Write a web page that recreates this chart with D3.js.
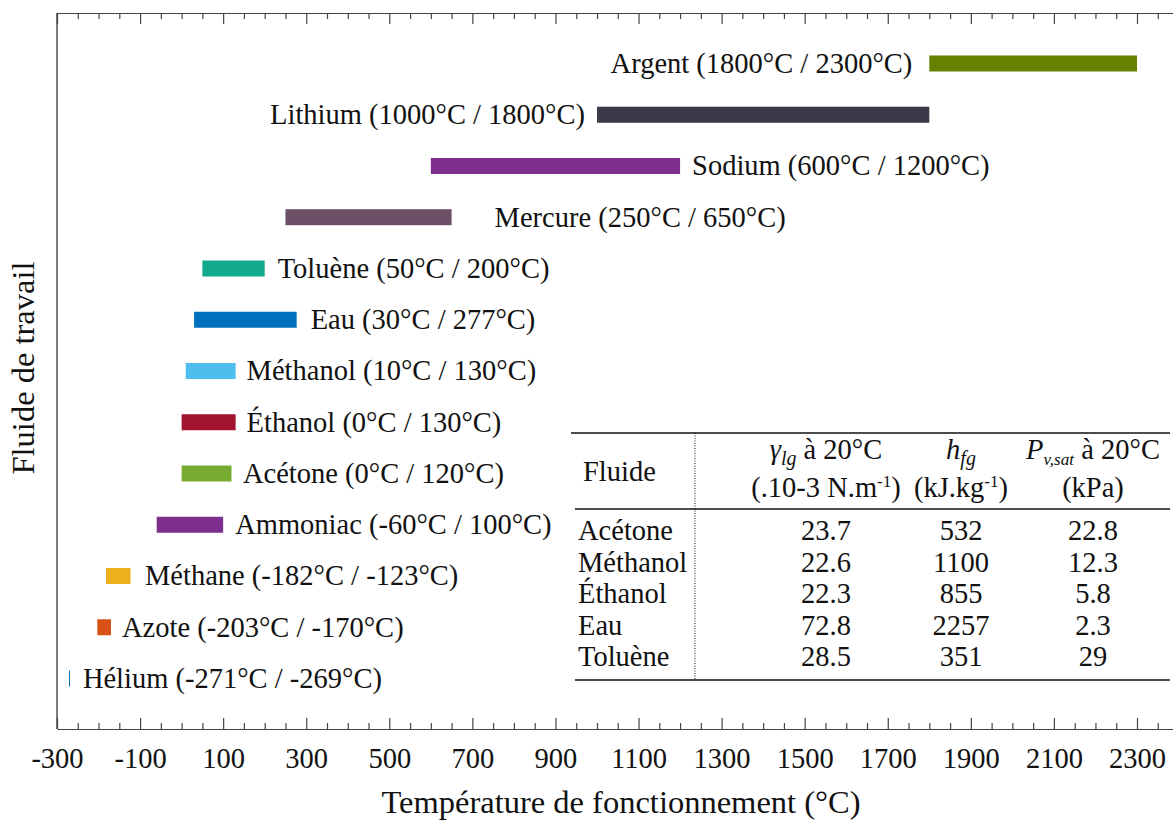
<!DOCTYPE html>
<html>
<head>
<meta charset="utf-8">
<script src="https://cdn.jsdelivr.net/npm/d3@7"></script>
<style>
  html, body { margin: 0; padding: 0; background: #fff; }
  svg { display: block; font-family: "Liberation Serif", "Times New Roman", serif; }
</style>
</head>
<body>
<svg id="chart" width="1173" height="821"></svg>
<script>
// ---------- data ----------
const fluids = ["Argent", "Lithium", "Sodium", "Mercure", "Toluène", "Eau", "Méthanol",
                "Éthanol", "Acétone", "Ammoniac", "Méthane", "Azote", "Hélium"];
const tMin = [1800, 1000, 600, 250, 50, 30, 10, 0, 0, -60, -182, -203, -271];
const tMax = [2300, 1800, 1200, 650, 200, 277, 130, 130, 120, 100, -123, -170, -269];
const barColors = ["#668000", "#3b3a4a", "#7e2f8e", "#6b5068", "#12a88a", "#0072bd", "#4dbeee",
                   "#a2142f", "#77ac30", "#7e2f8e", "#edb120", "#d95319", "#0072bd"];
const xTickValues = [-300, -100, 100, 300, 500, 700, 900, 1100, 1300, 1500, 1700, 1900, 2100, 2300];

const tableFluids = ["Acétone", "Méthanol", "Éthanol", "Eau", "Toluène"];
const gammaLg = ["23.7", "22.6", "22.3", "72.8", "28.5"];
const hFg = ["532", "1100", "855", "2257", "351"];
const pVsat = ["22.8", "12.3", "5.8", "2.3", "29"];

// ---------- layout ----------
const FS = 28.5;
const TFS = 32.5;
const plotLeft = 57, plotTop = 13, plotBottom = 729;
const pxPerDeg = 1080 / 2600;
const labelSide = ["left", "left", "right", "right", "right", "right", "right",
                   "right", "right", "right", "right", "right", "right"];
const labelGap = [17, 12, 12, 43, 13, 14, 11, 11, 11.5, 12, 14.5, 11, 13];

const svg = d3.select("#chart");
const x = d3.scaleLinear().domain([-300, 2400]).range([plotLeft, plotLeft + 2700 * pxPerDeg]);
const y = d3.scaleBand().domain(fluids).range([plotTop, plotBottom]).paddingOuter(0.485).paddingInner(0);

const axisColor = "#444";
const minorTicks = d3.range(-300, 2401, 50).filter(v => (v + 300) % 200 !== 0);

// top axis
const gTop = svg.append("g").attr("transform", `translate(0,${plotTop})`);
gTop.call(d3.axisBottom(x).tickValues(xTickValues).tickSizeInner(11).tickSizeOuter(0).tickFormat(""));
gTop.append("g").call(d3.axisBottom(x).tickValues(minorTicks).tickSizeInner(6).tickSizeOuter(0).tickFormat(""))
    .select(".domain").remove();

// bottom axis
const gBot = svg.append("g").attr("transform", `translate(0,${plotBottom})`);
gBot.call(d3.axisBottom(x).tickValues(xTickValues).tickSizeInner(-11).tickSizeOuter(0)
    .tickPadding(19).tickFormat(d => String(d)));
gBot.append("g").call(d3.axisBottom(x).tickValues(minorTicks).tickSizeInner(-6).tickSizeOuter(0).tickFormat(""))
    .select(".domain").remove();
gBot.selectAll("text").attr("font-size", FS).attr("font-family", "Liberation Serif").attr("fill", "#111");

svg.selectAll(".domain, .tick line").attr("stroke", axisColor).attr("stroke-width", 1.2);

// left axis line
svg.append("line").attr("x1", plotLeft).attr("x2", plotLeft).attr("y1", plotTop).attr("y2", plotBottom)
   .attr("stroke", axisColor).attr("stroke-width", 1.4);

// bars
const barH = 16;
svg.append("g").selectAll("rect").data(fluids).join("rect")
  .attr("x", (d, i) => x(tMin[i]))
  .attr("width", (d, i) => Math.max(1, x(tMax[i]) - x(tMin[i])))
  .attr("y", d => y(d) + y.bandwidth() / 2 - barH / 2)
  .attr("height", barH)
  .attr("fill", (d, i) => barColors[i]);

// bar labels
svg.append("g").selectAll("text").data(fluids).join("text")
  .attr("x", (d, i) => labelSide[i] === "left" ? x(tMin[i]) - labelGap[i] : x(tMax[i]) + labelGap[i])
  .attr("y", d => y(d) + y.bandwidth() / 2)
  .attr("dy", "0.33em")
  .attr("text-anchor", (d, i) => labelSide[i] === "left" ? "end" : "start")
  .attr("font-size", FS).attr("fill", "#111")
  .text((d, i) => `${d} (${tMin[i]}°C / ${tMax[i]}°C)`);

// axis titles
svg.append("text").attr("x", 621).attr("y", 813).attr("text-anchor", "middle")
  .attr("font-size", TFS).attr("fill", "#111").text("Température de fonctionnement (°C)");
svg.append("text").attr("transform", "translate(34,368) rotate(-90)").attr("text-anchor", "middle")
  .attr("font-size", TFS).attr("fill", "#111").text("Fluide de travail");

// ---------- table ----------
const tbl = svg.append("g").attr("font-size", FS).attr("fill", "#111");
const colX = [826, 961, 1093];
tbl.append("line").attr("x1", 571).attr("x2", 1170).attr("y1", 433).attr("y2", 433).attr("stroke", "#111").attr("stroke-width", 1.5);
tbl.append("line").attr("x1", 575).attr("x2", 1170).attr("y1", 509).attr("y2", 509).attr("stroke", "#111").attr("stroke-width", 1.5);
tbl.append("line").attr("x1", 575).attr("x2", 1170).attr("y1", 680).attr("y2", 680).attr("stroke", "#111").attr("stroke-width", 1.5);
tbl.append("line").attr("x1", 695).attr("x2", 695).attr("y1", 433).attr("y2", 680)
   .attr("stroke", "#111").attr("stroke-width", 1).attr("stroke-dasharray", "1,1.5");

tbl.append("text").attr("x", 583).attr("y", 481).text("Fluide");

// header col 1
let t = tbl.append("text").attr("x", colX[0]).attr("y", 459).attr("text-anchor", "middle");
t.append("tspan").attr("font-style", "italic").text("γ");
t.append("tspan").attr("font-style", "italic").attr("font-size", FS * 0.7).attr("dy", 6).text("lg");
t.append("tspan").attr("dy", -6).text(" à 20°C");
t = tbl.append("text").attr("x", colX[0]).attr("y", 497).attr("text-anchor", "middle");
t.append("tspan").text("(.10-3 N.m");
t.append("tspan").attr("font-size", FS * 0.6).attr("dy", -10).text("-1");
t.append("tspan").attr("dy", 10).text(")");
// header col 2
t = tbl.append("text").attr("x", colX[1]).attr("y", 459).attr("text-anchor", "middle");
t.append("tspan").attr("font-style", "italic").text("h");
t.append("tspan").attr("font-style", "italic").attr("font-size", FS * 0.7).attr("dy", 6).text("fg");
t = tbl.append("text").attr("x", colX[1]).attr("y", 497).attr("text-anchor", "middle");
t.append("tspan").text("(kJ.kg");
t.append("tspan").attr("font-size", FS * 0.6).attr("dy", -10).text("-1");
t.append("tspan").attr("dy", 10).text(")");
// header col 3
t = tbl.append("text").attr("x", colX[2]).attr("y", 459).attr("text-anchor", "middle");
t.append("tspan").attr("font-style", "italic").text("P");
t.append("tspan").attr("font-style", "italic").attr("font-size", FS * 0.6).attr("dy", 6).text("v,sat");
t.append("tspan").attr("dy", -6).text(" à 20°C");
tbl.append("text").attr("x", colX[2]).attr("y", 497).attr("text-anchor", "middle").text("(kPa)");

// rows
const rowY = d3.scaleLinear().domain([0, 4]).range([540, 666]);
tableFluids.forEach((f, i) => {
  tbl.append("text").attr("x", 578).attr("y", rowY(i)).text(f);
  [gammaLg, hFg, pVsat].forEach((col, j) => {
    tbl.append("text").attr("x", colX[j]).attr("y", rowY(i)).attr("text-anchor", "middle").text(col[i]);
  });
});
</script>
</body>
</html>
